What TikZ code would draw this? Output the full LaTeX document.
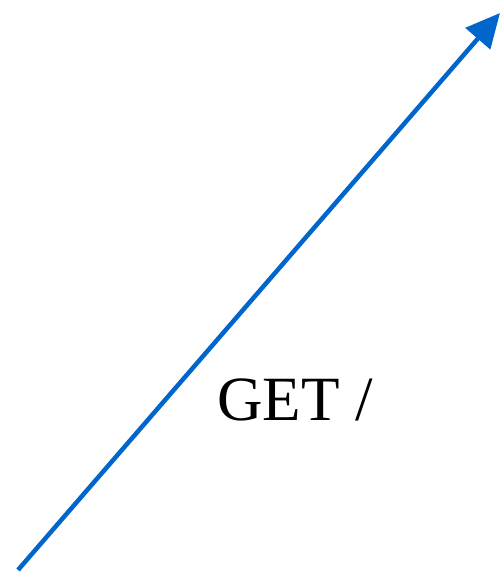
\documentclass[tikz,border=0pt]{standalone}
\usepackage{fontspec}
\setmainfont{Liberation Serif}
\usetikzlibrary{arrows.meta}
\definecolor{arrowblue}{RGB}{0,102,204}
\tikzset{flow/.style={draw=arrowblue,line width=4.5pt,-{Triangle[length=34pt,width=32pt]}},
  lbl/.style={font=\fontsize{63pt}{75pt}\selectfont,inner sep=0pt}}
\begin{document}
\begin{tikzpicture}[x=1pt,y=-1pt]
\useasboundingbox (0,0) rectangle (500,573);
\coordinate (s) at (18,570);
\coordinate (e) at (500,13);
\draw[flow] (s) -- (e);
\node[lbl] (l) at (295,400) {GET /};
\end{tikzpicture}
\end{document}
